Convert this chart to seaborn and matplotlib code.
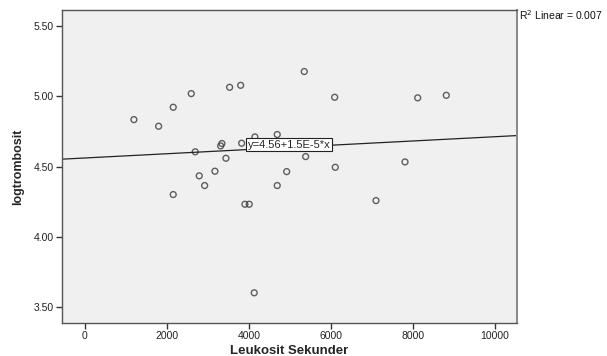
#%% Packages
import numpy as np
import pandas as pd
import matplotlib
matplotlib.use("Agg")
import matplotlib.pyplot as plt
import seaborn as sns

#%% Data
leukosit = [1195, 1798, 2154, 2593, 2690, 2788, 2154, 5349, 3529, 3798,
            6090, 3341, 3310, 4146, 4690, 3822, 3439, 5383, 3171, 2920,
            4920, 4690, 6105, 8115, 8812, 7805, 7098, 3902, 4007, 4129]
logtrombosit = [4.834, 4.787, 4.922, 5.019, 4.605, 4.434, 4.301, 5.176, 5.064, 5.078,
                4.993, 4.664, 4.647, 4.711, 4.728, 4.666, 4.559, 4.571, 4.467, 4.365,
                4.464, 4.365, 4.495, 4.989, 5.007, 4.533, 4.258, 4.232, 4.232, 3.602]
x_ticks = [0, 2000, 4000, 6000, 8000, 10000]
y_ticks = [3.50, 4.00, 4.50, 5.00, 5.50]
fit_label = "y=4.56+1.5E-5*x"
r2_label = "R$^2$ Linear = 0.007"

df = pd.DataFrame({"Leukosit Sekunder": leukosit, "logtrombosit": logtrombosit})

#%% Plot
sns.set_theme(style="white")
plt.rcParams["font.family"] = ["Liberation Sans", "DejaVu Sans"]

fig = plt.figure(figsize=(6.07, 3.56), dpi=100)
ax = fig.add_axes([0.102, 0.093, 0.750, 0.879])
ax.set_facecolor("#F0F0F0")

ax.set_xlim(-560, 10540)
ax.set_ylim(3.388, 5.614)

sns.regplot(data=df, x="Leukosit Sekunder", y="logtrombosit", ax=ax,
            ci=None, truncate=False,
            scatter_kws=dict(s=18, facecolors="none", edgecolors="#3a3a3a", linewidths=1.0),
            line_kws=dict(color="#222222", linewidth=0.9))

ax.text(4976, 4.656, fit_label, fontsize=8, ha="center", va="center",
        bbox=dict(boxstyle="square,pad=0.15", facecolor="white", edgecolor="#222222", linewidth=0.8))

ax.set_xticks(x_ticks)
ax.set_yticks(y_ticks)
ax.set_yticklabels([f"{v:.2f}" for v in y_ticks])
ax.tick_params(axis="both", direction="out", length=4, width=1, color="#333333",
               labelsize=7.5, labelcolor="#222222", bottom=True, left=True, pad=2)

for side, sp in ax.spines.items():
    sp.set_color("#555555")
    sp.set_linewidth(1.0)
ax.spines["right"].set_color("#888888")
ax.spines["right"].set_linewidth(1.4)

ax.set_xlabel("Leukosit Sekunder", fontsize=9.5, fontweight="bold", labelpad=3)
ax.set_ylabel("logtrombosit", fontsize=9, fontweight="bold", labelpad=7)

fig.text(0.855, 0.958, r2_label, fontsize=7.5, ha="left", va="center", color="#111111")

fig.savefig("out.png", dpi=100)
